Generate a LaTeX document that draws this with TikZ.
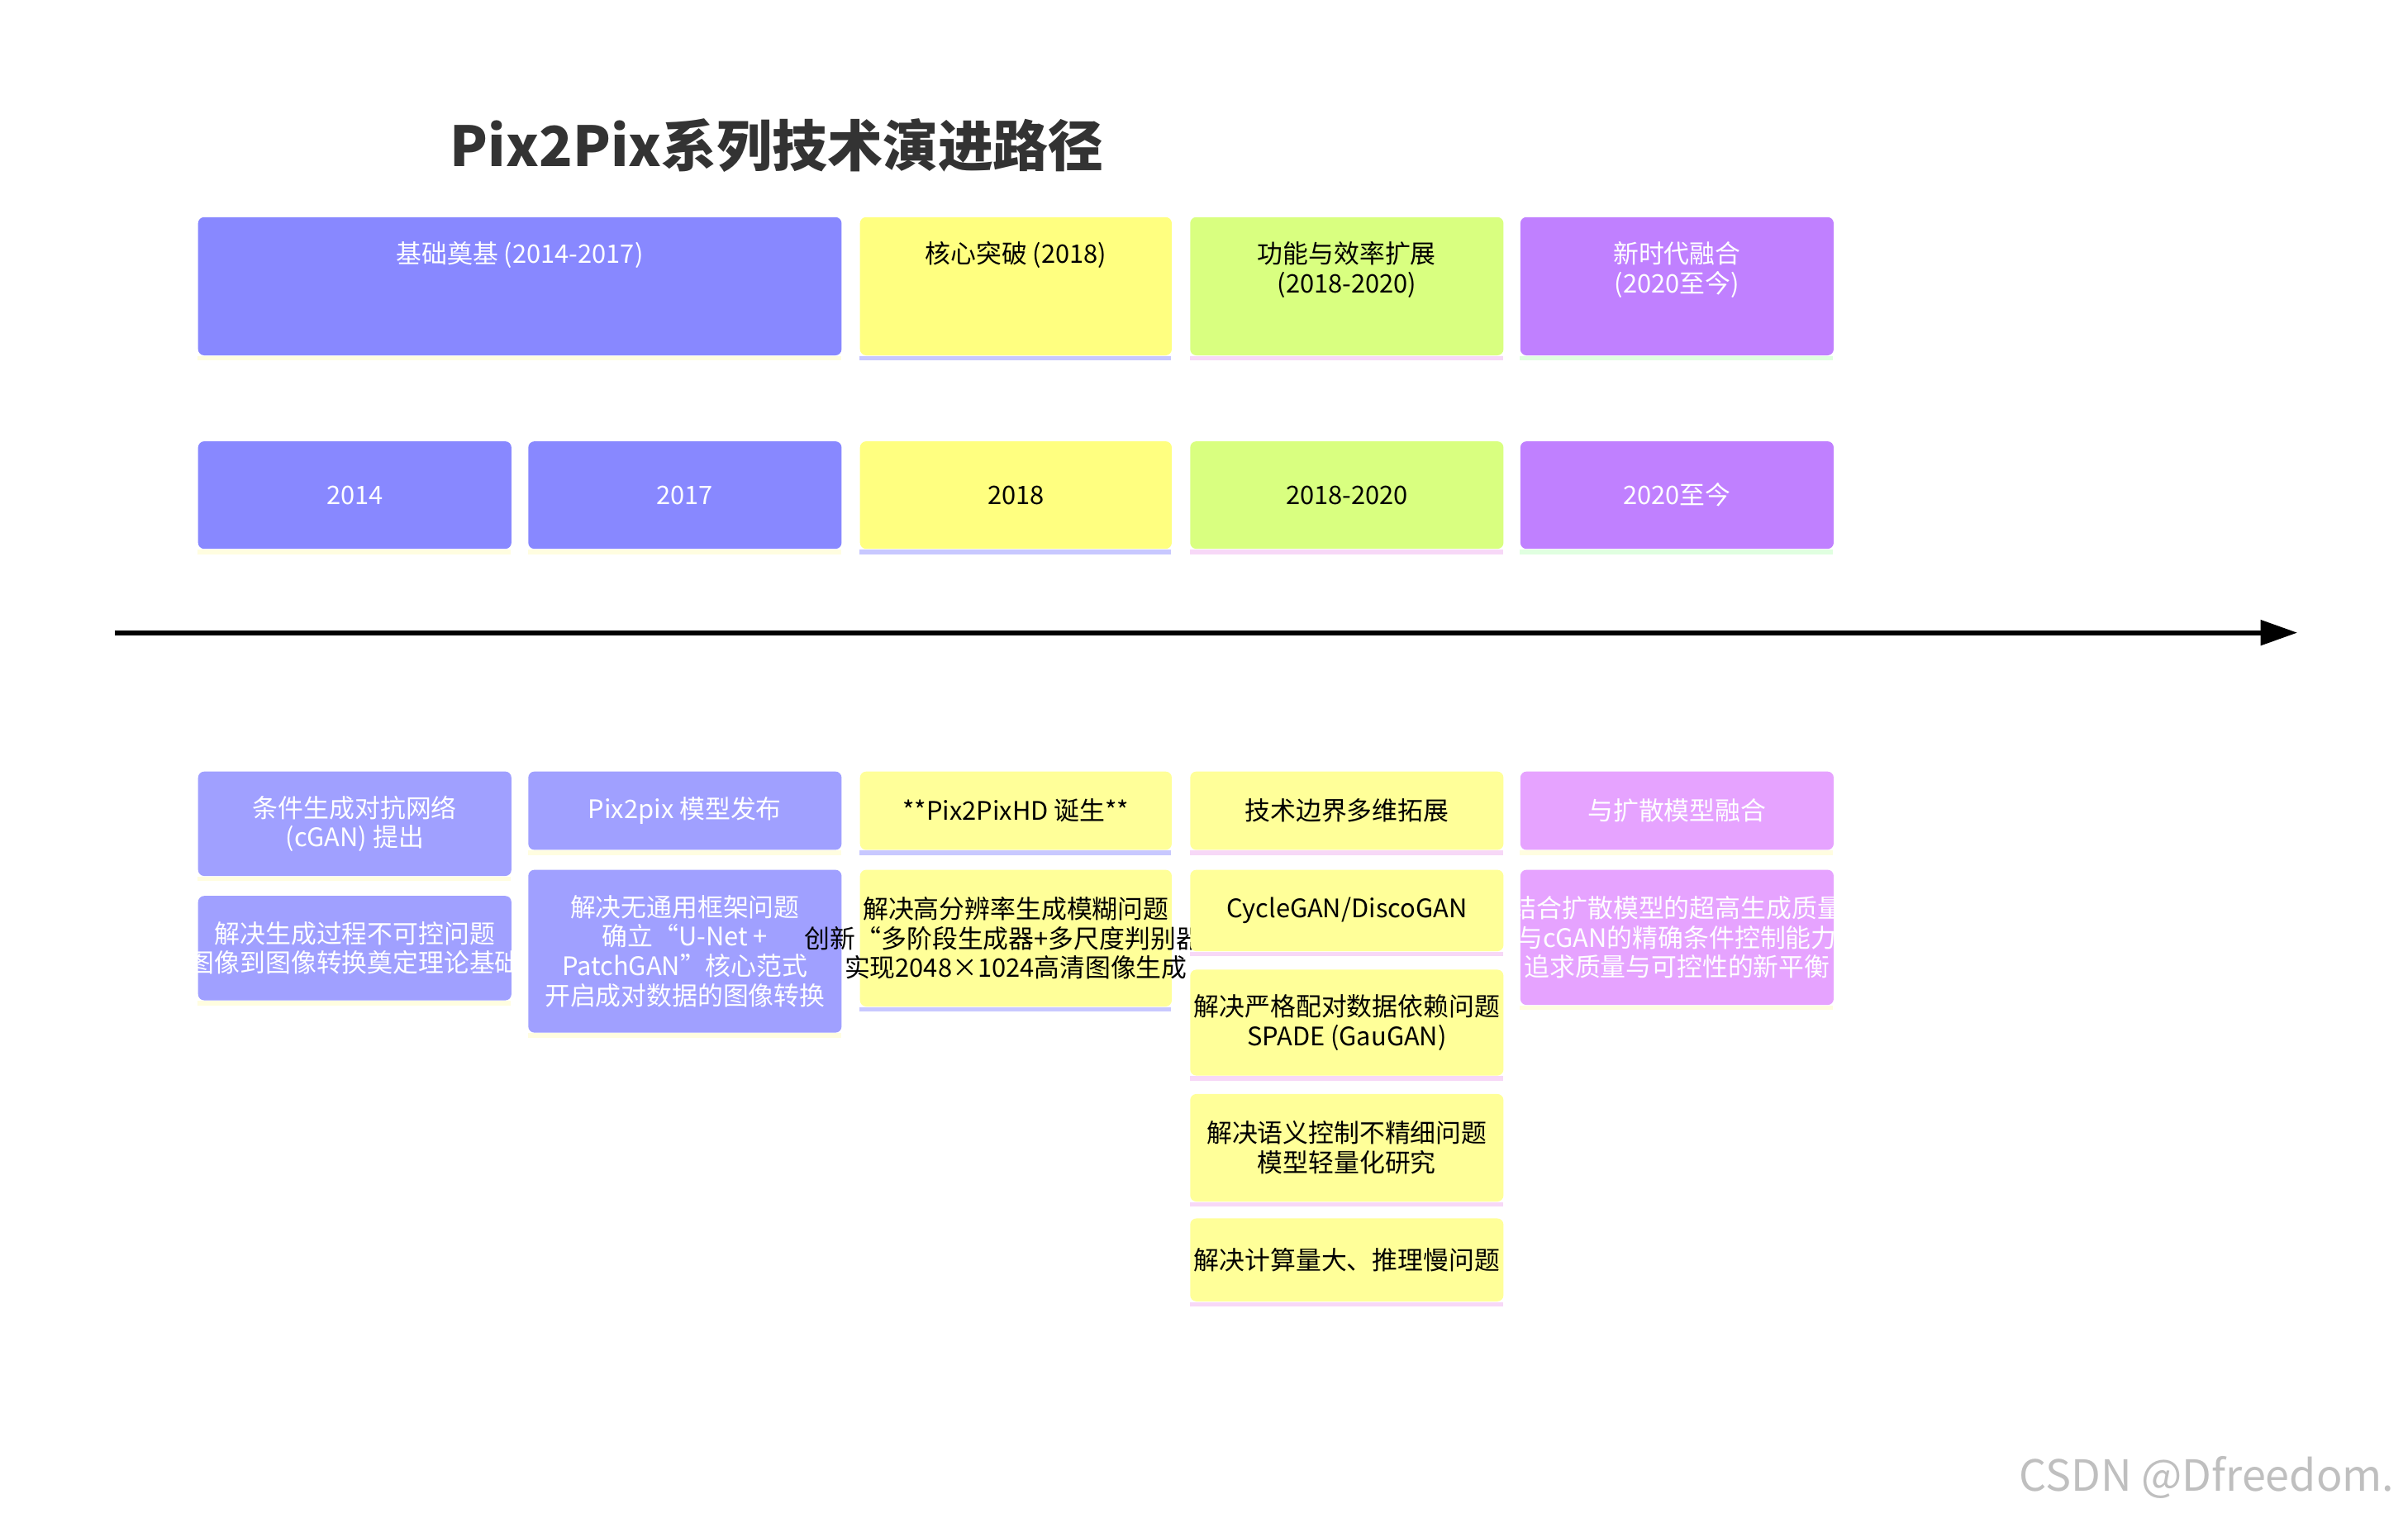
\documentclass[tikz,border=0pt]{standalone}
\usepackage{fontspec}
\setmainfont{Noto Sans CJK SC}
\usetikzlibrary{arrows.meta}
\pgfdeclarelayer{bg}\pgfsetlayers{bg,main}
\definecolor{secB}{HTML}{8888FF}
\definecolor{secY}{HTML}{FFFF80}
\definecolor{secG}{HTML}{D9FF80}
\definecolor{secP}{HTML}{C080FF}
\definecolor{evB}{HTML}{A0A0FF}
\definecolor{evY}{HTML}{FFFF99}
\definecolor{evP}{HTML}{E6A3FF}
\definecolor{stY}{HTML}{FFFDE0}
\definecolor{stL}{HTML}{C8C8FF}
\definecolor{stK}{HTML}{F7D8F7}
\definecolor{stG}{HTML}{E0FFE0}
\tikzset{
  box/.style={draw=none, rounded corners=2pt, inner sep=0pt},
  lbl/.style={align=center, font=\fontsize{8.3}{9.6}\selectfont, inner sep=0pt},
  conn/.style={dashed, line width=0.9pt, dash pattern=on 3pt off 3pt, -{Stealth[length=5pt,width=4pt]}, black!85}
}
% name, cx, ytop, w, h, fill, strip, textcolor, text, textdy
\newcommand\mybox[9]{%
  \node[box, fill=#6, minimum width=#4*0.5pt, minimum height=#5*0.5pt, anchor=north] (#1) at (#2,#3) {};
  \fill[#7] (#1.south west) rectangle ++(#4,3);
  \begin{scope}\clip (#1.south west) rectangle (#1.north east);
  \node[lbl, text=#8] at (#1.center) {#9};\end{scope}}
\newcommand\secbox[9]{%
  \node[box, fill=#6, minimum width=#4*0.5pt, minimum height=#5*0.5pt, anchor=north] (#1) at (#2,#3) {};
  \fill[#7] (#1.south west) rectangle ++(#4,3);
  \node[lbl, text=#8, anchor=north] at ([yshift=-8pt]#1.north) {#9};}
\begin{document}
\begin{tikzpicture}[x=0.5pt,y=-0.5pt]
\useasboundingbox (0,0) rectangle (1568,988);
\fill[white] (0,0) rectangle (1568,988);
\node[font=\fontsize{18}{20}\selectfont\bfseries, text=black!80] (title) at (506,95) {Pix2Pix系列技术演进路径};
% sections
\secbox{s1}{338.5}{141}{419}{90}{secB}{stY}{white}{基础奠基 (2014-2017)}
\secbox{s2}{661.5}{141}{203}{90}{secY}{stL}{black}{核心突破 (2018)}
\secbox{s3}{877}{141}{204}{90}{secG}{stK}{black}{功能与效率扩展\\(2018-2020)}
\secbox{s4}{1092}{141}{204}{90}{secP}{stG}{white}{新时代融合\\(2020至今)}
% periods
\mybox{p1}{231}{287}{204}{70}{secB}{stY}{white}{2014}
\mybox{p2}{446}{287}{204}{70}{secB}{stY}{white}{2017}
\mybox{p3}{661.5}{287}{203}{70}{secY}{stL}{black}{2018}
\mybox{p4}{877}{287}{204}{70}{secG}{stK}{black}{2018-2020}
\mybox{p5}{1092}{287}{204}{70}{secP}{stG}{white}{2020至今}
% axis
\coordinate (axl) at (75,412);
\coordinate (axr) at (1496,412);
\draw[line width=1.6pt, -{Triangle[length=12pt,width=8pt]}] (axl) -- (axr);
% events
\mybox{e11}{231}{502}{204}{68}{evB}{stY}{white}{条件生成对抗网络\\(cGAN) 提出}
\mybox{e12}{231}{583}{204}{68}{evB}{stY}{white}{解决生成过程不可控问题\\图像到图像转换奠定理论基础}
\mybox{e21}{446}{502}{204}{51}{evB}{stY}{white}{Pix2pix 模型发布}
\mybox{e22}{446}{566}{204}{106}{evB}{stY}{white}{解决无通用框架问题\\确立“U-Net +\\PatchGAN”核心范式\\开启成对数据的图像转换}
\mybox{e31}{661.5}{502}{203}{51}{evY}{stL}{black}{**Pix2PixHD 诞生**}
\node[box, fill=evY, minimum width=101.5pt, minimum height=44.5pt, anchor=north] (e32) at (661.5,566) {};
\fill[stL] (e32.south west) rectangle ++(203,3);
\node[lbl, text=black] (e32t) at (e32.center) {解决高分辨率生成模糊问题\\创新“多阶段生成器+多尺度判别器”\\实现2048×1024高清图像生成};
\mybox{e41}{877}{502}{204}{51}{evY}{stK}{black}{技术边界多维拓展}
\mybox{e42}{877}{566}{204}{53}{evY}{stK}{black}{CycleGAN/DiscoGAN}
\mybox{e43}{877}{631}{204}{69}{evY}{stK}{black}{解决严格配对数据依赖问题\\SPADE (GauGAN)}
\mybox{e44}{877}{712}{204}{70}{evY}{stK}{black}{解决语义控制不精细问题\\模型轻量化研究}
\mybox{e45}{877}{793}{204}{54}{evY}{stK}{black}{解决计算量大、推理慢问题}
\mybox{e51}{1092}{502}{204}{51}{evP}{stY}{white}{与扩散模型融合}
\mybox{e52}{1092}{566}{204}{88}{evP}{stY}{white}{结合扩散模型的超高生成质量\\与cGAN的精确条件控制能力\\追求质量与可控性的新平衡}
% connectors
\coordinate (d1) at (231,913);
\coordinate (d2) at (446,913);
\coordinate (d3) at (661.5,913);
\coordinate (d4) at (877,913);
\coordinate (d5) at (1092,913);
\begin{pgfonlayer}{bg}
\draw[conn] (p1.south) -- (d1);
\draw[conn] (p2.south) -- (d2);
\draw[conn] (p3.south) -- (d3);
\draw[conn] (p4.south) -- (d4);
\draw[conn] (p5.south) -- (d5);
\end{pgfonlayer}
\node[font=\fontsize{14}{16}\selectfont, text=black!25, anchor=east] (wm) at (1566,962) {CSDN @Dfreedom.};
\end{tikzpicture}
\end{document}
